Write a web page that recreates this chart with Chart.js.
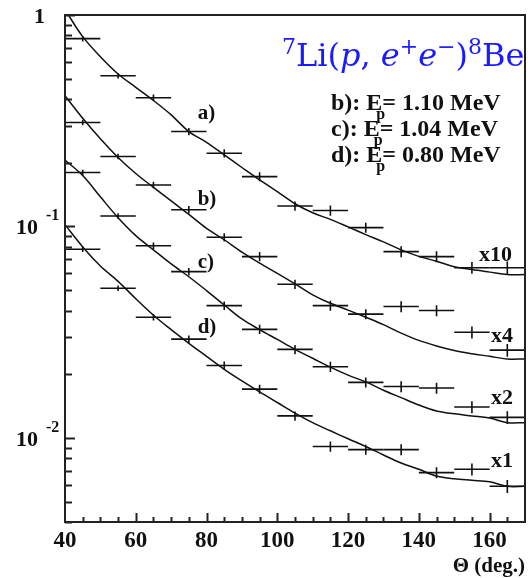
<!DOCTYPE html>
<html>
<head>
<meta charset="utf-8">
<script src="https://cdn.jsdelivr.net/npm/chart.js@4.4.0/dist/chart.umd.min.js"></script>
<style>
  html, body { margin: 0; padding: 0; background: #fff; }
  #wrap { width: 528px; height: 578px; }
</style>
</head>
<body>
<div id="wrap"><canvas id="chart" width="528" height="578"></canvas></div>
<script>
// measured yields, 10 deg wide bins
const thetaBins = [45, 55, 65, 75, 85, 95, 105, 115, 125, 135, 145, 155, 165]
const binHalfWidth = 5
const dataA = [0.773, 0.516, 0.406, 0.281, 0.222, 0.172, 0.125, 0.119, 0.0987, 0.076, 0.072, 0.0638, 0.0638]
const dataB = [0.31, 0.214, 0.157, 0.12, 0.0889, 0.072, 0.0533, 0.0422, 0.0385, 0.0418, 0.04, 0.0316, 0.026]
const dataC = [0.18, 0.112, 0.081, 0.0611, 0.0422, 0.0326, 0.0262, 0.0217, 0.0183, 0.0175, 0.0172, 0.014, 0.0125]
const dataD = [0.078, 0.051, 0.0372, 0.0293, 0.022, 0.017, 0.0127, 0.0091, 0.0088, 0.0088, 0.00685, 0.0071, 0.0059]
const relErr = [0.03, 0.03, 0.035, 0.04, 0.045, 0.05, 0.05, 0.055, 0.055, 0.06, 0.06, 0.065, 0.07]

const curveTheta = [40, 45, 50, 55, 60, 65, 70, 75, 80, 85, 90, 95, 100, 105, 110, 115, 120, 125, 130, 135, 140, 145, 150, 155, 160, 165, 170]
const curveA = [1.06, 0.79, 0.635, 0.526, 0.455, 0.394, 0.337, 0.281, 0.25, 0.218, 0.19, 0.166, 0.146, 0.128, 0.116, 0.108, 0.0995, 0.0915, 0.0845, 0.0775, 0.0722, 0.0685, 0.0645, 0.0625, 0.0608, 0.0592, 0.0592]
const curveB = [0.415, 0.325, 0.26, 0.212, 0.178, 0.153, 0.132, 0.114, 0.098, 0.0865, 0.0755, 0.067, 0.06, 0.0535, 0.0475, 0.0433, 0.0402, 0.0372, 0.0343, 0.0313, 0.0289, 0.0272, 0.0259, 0.025, 0.0243, 0.0236, 0.0236]
const curveC = [0.206, 0.174, 0.138, 0.11, 0.0905, 0.0775, 0.0665, 0.0578, 0.0497, 0.0425, 0.0365, 0.0325, 0.0292, 0.0262, 0.0238, 0.0216, 0.0198, 0.0184, 0.0168, 0.0155, 0.0143, 0.0134, 0.013, 0.0127, 0.0124, 0.0118, 0.0118]
const curveD = [0.102, 0.08, 0.065, 0.055, 0.0455, 0.038, 0.0325, 0.028, 0.0243, 0.0211, 0.0186, 0.0165, 0.0147, 0.0131, 0.0118, 0.0108, 0.0099, 0.0091, 0.0083, 0.0076, 0.0071, 0.0066, 0.0064, 0.0063, 0.0062, 0.0059, 0.0059]

const xTicks = [40, 60, 80, 100, 120, 140, 160]
const yTicks = [[1, '1', ''], [0.1, '10', '-1'], [0.01, '10', '-2']]
const curveNames = ['a)', 'b)', 'c)', 'd)']
const factors = ['x10', 'x4', 'x2', 'x1']
const energies = [['b)', '1.10'], ['c)', '1.04'], ['d)', '0.80']]

const SERIF = '"Liberation Serif", "Times New Roman", serif'

const toXY = (xs, ys) => xs.map((x, i) => ({ x: x, y: ys[i] }))

function curveSet(vals) {
  return {
    type: 'line',
    data: toXY(curveTheta, vals),
    borderColor: '#111',
    borderWidth: 1.5,
    pointRadius: 0,
    tension: 0.35,
    fill: false,
  }
}

function pointSet(vals) {
  return {
    type: 'scatter',
    data: thetaBins.map((t, i) => ({ x: t, y: vals[i], err: relErr[i] })),
    pointRadius: 0,
    showLine: false,
    isBins: true,
  }
}

// draws the + style bins (theta width and yield error)
const binBars = {
  id: 'binBars',
  afterDatasetsDraw(chart) {
    const { ctx, chartArea: a, scales: { x, y } } = chart
    ctx.save()
    ctx.beginPath()
    ctx.rect(a.left, a.top, a.right - a.left, a.bottom - a.top)
    ctx.clip()
    ctx.strokeStyle = '#111'
    ctx.lineWidth = 1.6
    chart.data.datasets.forEach((ds) => {
      if (!ds.isBins) return
      ds.data.forEach((p) => {
        const px = x.getPixelForValue(p.x)
        const py = y.getPixelForValue(p.y)
        ctx.beginPath()
        ctx.moveTo(x.getPixelForValue(p.x - binHalfWidth), py)
        ctx.lineTo(x.getPixelForValue(p.x + binHalfWidth), py)
        ctx.moveTo(px, y.getPixelForValue(p.y * (1 + p.err)))
        ctx.lineTo(px, y.getPixelForValue(p.y * (1 - p.err)))
        ctx.stroke()
      })
    })
    ctx.restore()
  },
}

// frame, inward ticks and all text
const decor = {
  id: 'decor',
  afterDraw(chart) {
    const { ctx, chartArea: a, scales: { x, y } } = chart
    ctx.save()
    ctx.strokeStyle = '#222'
    ctx.fillStyle = '#111'
    ctx.lineWidth = 2

    // y ticks, 1..9 per decade
    ctx.beginPath()
    for (let e = -3; e <= 0; e++) {
      for (let m = 1; m <= 9; m++) {
        const v = m * Math.pow(10, e)
        if (v < y.min * 0.999 || v > y.max * 1.001) continue
        const py = Math.round(y.getPixelForValue(v)) + 0.5
        ctx.moveTo(a.left, py)
        ctx.lineTo(a.left + (m === 1 ? 10 : 7), py)
      }
    }
    // x ticks every 5 deg
    for (let t = 45; t < 170; t += 5) {
      const px = Math.round(x.getPixelForValue(t)) + 0.5
      ctx.moveTo(px, a.bottom)
      ctx.lineTo(px, a.bottom - (t % 20 === 0 ? 9 : 5))
    }
    ctx.stroke()
    ctx.strokeRect(a.left, a.top, a.right - a.left, a.bottom - a.top)

    // tick labels
    ctx.font = 'bold 23px ' + SERIF
    ctx.textAlign = 'center'
    ctx.textBaseline = 'alphabetic'
    xTicks.forEach((t) => ctx.fillText(String(t), x.getPixelForValue(t), 547))

    yTicks.forEach(([v, base, exp]) => {
      const py = y.getPixelForValue(v)
      ctx.textAlign = 'right'
      ctx.font = 'bold 22px ' + SERIF
      if (!exp) {
        ctx.fillText(base, 45, py + 8)
      } else {
        ctx.fillText(base, 38, py + 8)
        ctx.textAlign = 'left'
        ctx.font = 'bold 16px ' + SERIF
        ctx.fillText(exp, 46, py - 6)
      }
    })

    ctx.textAlign = 'right'
    ctx.font = 'bold 21px ' + SERIF
    ctx.fillText('\u0398 (deg.)', 525, 572)

    // curve names and scale factors
    ctx.textAlign = 'left'
    ctx.font = 'bold 21px ' + SERIF
    const nameY = [0.348, 0.136, 0.0687, 0.0339]
    curveNames.forEach((n, i) => ctx.fillText(n, x.getPixelForValue(77.5), y.getPixelForValue(nameY[i]) + 7))
    const facY = [0.0745, 0.0311, 0.0158, 0.00793]
    ctx.font = 'bold 22px ' + SERIF
    factors.forEach((f, i) => ctx.fillText(f, i === 0 ? 479 : 491, y.getPixelForValue(facY[i]) + 8))

    // beam energies
    energies.forEach(([n, e], i) => {
      const by = 110 + i * 26
      ctx.font = 'bold 24px ' + SERIF
      let cx = 331
      const head = n + ': E'
      ctx.fillText(head, cx, by)
      cx += ctx.measureText(head).width
      ctx.font = 'bold 16px ' + SERIF
      ctx.fillText('p', cx - 6, by + 9)
      ctx.font = 'bold 24px ' + SERIF
      ctx.fillText('= ' + e + ' MeV', cx, by)
    })

    // reaction title
    ctx.fillStyle = '#1a1aff'
    const TF = '"DejaVu Serif", serif'
    const parts = [['7', 's'], ['Li', 'n'], ['(', 'n'], ['p', 'i'], [', ', 'n'], ['e', 'i'], ['+', 's'], ['e', 'i'], ['\u2212', 's'], [')', 'n'], ['8', 's'], ['Be', 'n']]
    let tx = 282
    const base = 66
    parts.forEach(([t, k]) => {
      if (k === 's') ctx.font = '22px ' + TF
      else if (k === 'i') ctx.font = 'italic 32px ' + TF
      else ctx.font = '32px ' + TF
      ctx.fillText(t, tx, k === 's' ? base - 12 : base)
      tx += ctx.measureText(t).width
    })

    ctx.restore()
  },
}

new Chart(document.getElementById('chart'), {
  data: {
    datasets: [
      curveSet(curveA), curveSet(curveB), curveSet(curveC), curveSet(curveD),
      pointSet(dataA), pointSet(dataB), pointSet(dataC), pointSet(dataD),
    ],
  },
  options: {
    responsive: false,
    animation: false,
    devicePixelRatio: 1,
    layout: { padding: { left: 65, top: 15, right: 3, bottom: 56 } },
    plugins: { legend: { display: false }, tooltip: { enabled: false } },
    scales: {
      x: { type: 'linear', min: 40, max: 170, display: false },
      y: { type: 'logarithmic', min: 0.004, max: 1, display: false },
    },
  },
  plugins: [binBars, decor],
})
</script>
</body>
</html>
